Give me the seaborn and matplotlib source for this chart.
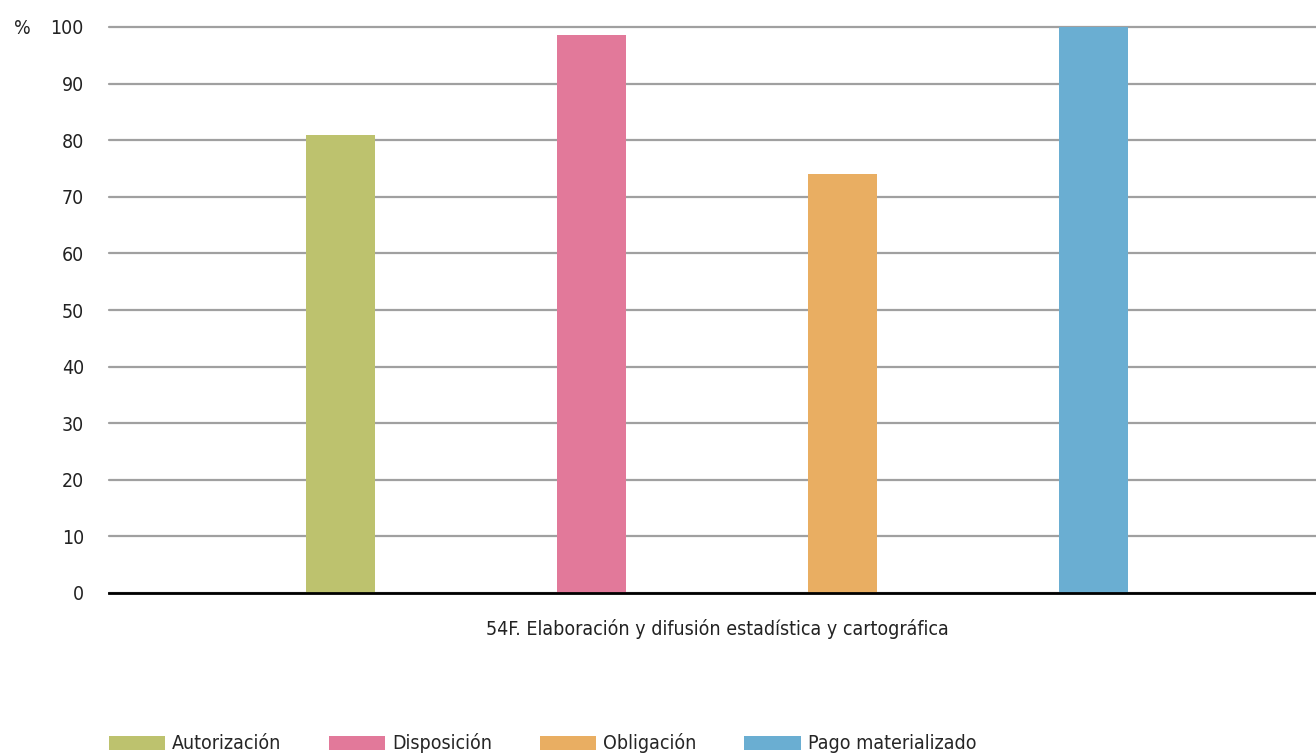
import matplotlib
matplotlib.use("Agg")
import matplotlib.pyplot as plt
import seaborn as sns
import pandas as pd

category = "54F. Elaboración y difusión estadística y cartográfica"
series = ["Autorización", "Disposición", "Obligación", "Pago materializado"]
values = [81.0, 98.6, 74.0, 100.0]
colors = ["#BDC26E", "#E2799A", "#E9AE62", "#6AAED2"]
yticks = [0, 10, 20, 30, 40, 50, 60, 70, 80, 90, 100]

sns.set_theme(style="white")
plt.rcParams['font.family'] = ['DejaVu Sans']
plt.rcParams['font.stretch'] = 'condensed'

df = pd.DataFrame({"cat": [category] * len(series), "serie": series, "val": values})

fig = plt.figure(figsize=(13.16, 7.56), dpi=100)
ax = fig.add_axes([109 / 1316, 1 - 593 / 756, (1316 - 109) / 1316, (593 - 27) / 756])

sns.barplot(data=df, x="cat", y="val", hue="serie", hue_order=series,
            palette=colors, width=0.8, gap=0.725, ax=ax, legend=True,
            saturation=1, zorder=3, linewidth=0)

ax.set_xlim(-0.4845, 0.4773)
ax.set_ylim(0, 100)
ax.set_yticks(yticks)
ax.set_yticklabels([str(t) for t in yticks], fontsize=14, color="#222222")
ax.tick_params(axis="y", length=0, pad=18)
ax.tick_params(axis="x", length=0, pad=19)
ax.set_xticks([0])
ax.set_xticklabels([category], fontsize=14, color="#222222")
ax.set_xlabel("")
ax.set_ylabel("")
ax.yaxis.grid(True, color="#A0A0A0", linewidth=1.6, zorder=0)
for gl in ax.get_ygridlines():
    gl.set_clip_on(False)
ax.set_axisbelow(True)
for s in ["top", "right", "left"]:
    ax.spines[s].set_visible(False)
ax.spines["bottom"].set_color("black")
ax.spines["bottom"].set_linewidth(2)
ax.spines["bottom"].set_zorder(5)

fig.text(22 / 1316, 1 - 29 / 756, "%", fontsize=14, color="#222222", ha="center", va="center")

handles, labels = ax.get_legend_handles_labels()
ax.get_legend().remove()
fig.legend(handles, labels, loc="lower left", bbox_to_anchor=(97 / 1316, -0.012),
           ncol=4, frameon=False, fontsize=14, handlelength=2.9, handleheight=0.75,
           handletextpad=0.36, columnspacing=2.45, borderaxespad=0.2)

fig.savefig("out.png", dpi=100)
